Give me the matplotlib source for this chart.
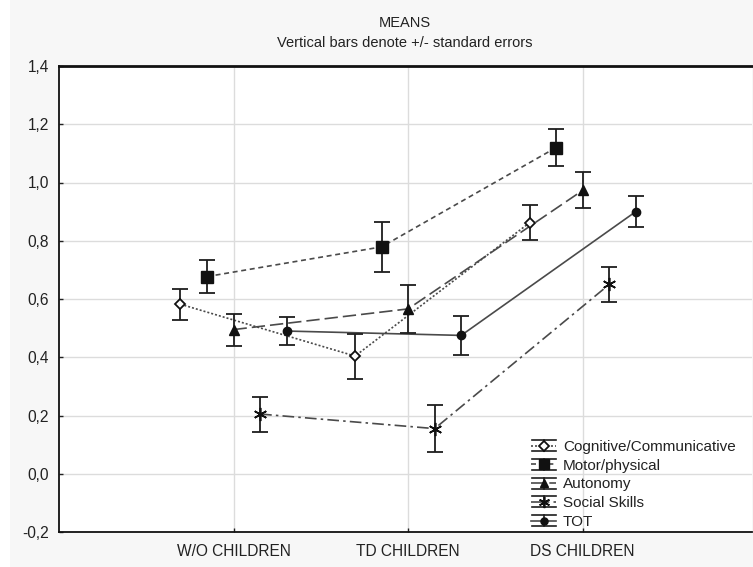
import matplotlib
matplotlib.use("Agg")
import matplotlib.pyplot as plt
from matplotlib.lines import Line2D
from matplotlib.legend_handler import HandlerBase
from matplotlib.patches import Rectangle
from matplotlib.ticker import FuncFormatter, FixedLocator

plt.rcParams['font.family'] = ['Liberation Sans', 'DejaVu Sans']

# ---- data ----
categories = ["W/O CHILDREN", "TD CHILDREN", "DS CHILDREN"]
series_names = ["Cognitive/Communicative", "Motor/physical", "Autonomy", "Social Skills", "TOT"]
cog_mean = [0.582, 0.404, 0.862]
cog_se = [0.053, 0.077, 0.060]
motor_mean = [0.677, 0.779, 1.120]
motor_se = [0.058, 0.085, 0.065]
auton_mean = [0.495, 0.566, 0.973]
auton_se = [0.055, 0.082, 0.062]
social_mean = [0.205, 0.155, 0.650]
social_se = [0.060, 0.080, 0.060]
tot_mean = [0.490, 0.475, 0.900]
tot_se = [0.048, 0.068, 0.052]
y_ticks = [-0.2, 0.0, 0.2, 0.4, 0.6, 0.8, 1.0, 1.2, 1.4]

means = [cog_mean, motor_mean, auton_mean, social_mean, tot_mean]
ses = [cog_se, motor_se, auton_se, social_se, tot_se]

LINEC = '#4a4a4a'
EBC = '#1e1e1e'
styles = [
    dict(marker='D', ms=5.5, mfc='white', mec='#111111', mew=1.3, dashes=(1.2, 1.2)),
    dict(marker='s', ms=8.5, mfc='#111111', mec='#111111', mew=1.0, dashes=(3, 2.2)),
    dict(marker='^', ms=7, mfc='#111111', mec='#111111', mew=1.0, dashes=(8, 3)),
    dict(marker=(6, 2, 0), ms=9.5, mfc='#111111', mec='#111111', mew=1.2, dashes=(7, 2.5, 1.5, 2.5)),
    dict(marker='o', ms=6, mfc='#111111', mec='#111111', mew=1.0, dashes=None),
]
offsets = [-0.304, -0.152, 0.0, 0.152, 0.304]

fig = plt.figure(figsize=(7.53, 5.67), dpi=100, facecolor='#f7f7f7')
fig.patches.append(Rectangle((0, 0), 10 / 753, 1, transform=fig.transFigure,
                             facecolor='white', edgecolor='none', zorder=-10))
ax = fig.add_axes([59 / 753, 1 - 532 / 567, (752 - 59) / 753, (532 - 66) / 567])
ax.set_facecolor('white')

xbase = [1, 2, 3]
handles = []
for i in range(5):
    st = styles[i]
    xs = [x + offsets[i] for x in xbase]
    kw = dict(color=LINEC, lw=1.2)
    if st['dashes'] is None:
        kw['linestyle'] = '-'
    else:
        kw['linestyle'] = (0, st['dashes'])
    ln, = ax.plot(xs, means[i], zorder=3, **kw)
    ax.errorbar(xs, means[i], yerr=ses[i], fmt='none', ecolor=EBC, elinewidth=1.3,
                capsize=6, capthick=1.3, zorder=4)
    ax.plot(xs, means[i], linestyle='none', marker=st['marker'], ms=st['ms'],
            mfc=st['mfc'], mec=st['mec'], mew=st['mew'], zorder=5)
    h = Line2D([], [], color=LINEC, lw=1.2, linestyle=kw['linestyle'],
               marker=st['marker'], ms=st['ms'], mfc=st['mfc'], mec=st['mec'], mew=st['mew'])
    handles.append(h)


class EBHandler(HandlerBase):
    def create_artists(self, legend, h, xd, yd, w, ht, fs, trans):
        x0 = -xd
        x1 = -xd + w
        cx = (x0 + x1) / 2
        cy = ht / 2 - yd
        e = 4.0
        center = Line2D([x0, x1], [cy, cy])
        center.update_from(h)
        center.set_marker('None')
        vert = Line2D([cx, cx], [cy - e, cy + e], color=EBC, lw=1.2)
        capt = Line2D([x0 + 0.5, x1 - 0.5], [cy + e, cy + e], color=EBC, lw=1.2)
        capb = Line2D([x0 + 0.5, x1 - 0.5], [cy - e, cy - e], color=EBC, lw=1.2)
        mk = Line2D([cx], [cy], linestyle='none', marker=h.get_marker(),
                    ms=h.get_markersize() * 0.85, mfc=h.get_markerfacecolor(),
                    mec=h.get_markeredgecolor(), mew=h.get_markeredgewidth())
        arts = [center, vert, capt, capb, mk]
        for a in arts:
            a.set_transform(trans)
        return arts


ax.set_xlim(0.0, 3.97)
ax.set_ylim(-0.2, 1.4)
ax.yaxis.set_major_locator(FixedLocator(y_ticks))
ax.yaxis.set_major_formatter(FuncFormatter(lambda v, p: f"{v:.1f}".replace('.', ',')))
ax.set_xticks(xbase)
ax.set_xticklabels(categories)
ax.tick_params(axis='both', direction='in', length=3, width=1, color='#222222',
               labelsize=11.2, labelcolor='#222222')
ax.tick_params(axis='y', pad=7)
ax.tick_params(axis='x', pad=9)
ax.grid(True, color='#dcdcdc', lw=1.0, zorder=0)
ax.set_axisbelow(True)
for s in ['left', 'bottom', 'top']:
    ax.spines[s].set_color('#111111')
    ax.spines[s].set_linewidth(1.3)
ax.spines['top'].set_linewidth(2.0)
ax.spines['right'].set_visible(False)

fig.text(405 / 753, 1 - 23 / 567, 'MEANS', ha='center', va='center', fontsize=10.5, color='#222222')
fig.text(405 / 753, 1 - 43 / 567, 'Vertical bars denote +/- standard errors', ha='center',
         va='center', fontsize=10.5, color='#222222')

leg = fig.legend(handles, series_names, handler_map={Line2D: EBHandler()},
                 loc='upper left', bbox_to_anchor=(531 / 753, 1 - 440 / 567),
                 bbox_transform=fig.transFigure, frameon=False, fontsize=11,
                 handlelength=1.65, handletextpad=0.45, labelspacing=0.31,
                 borderpad=0, borderaxespad=0)
for t in leg.get_texts():
    t.set_color('#222222')

fig.savefig('out.png', dpi=100, facecolor=fig.get_facecolor())
